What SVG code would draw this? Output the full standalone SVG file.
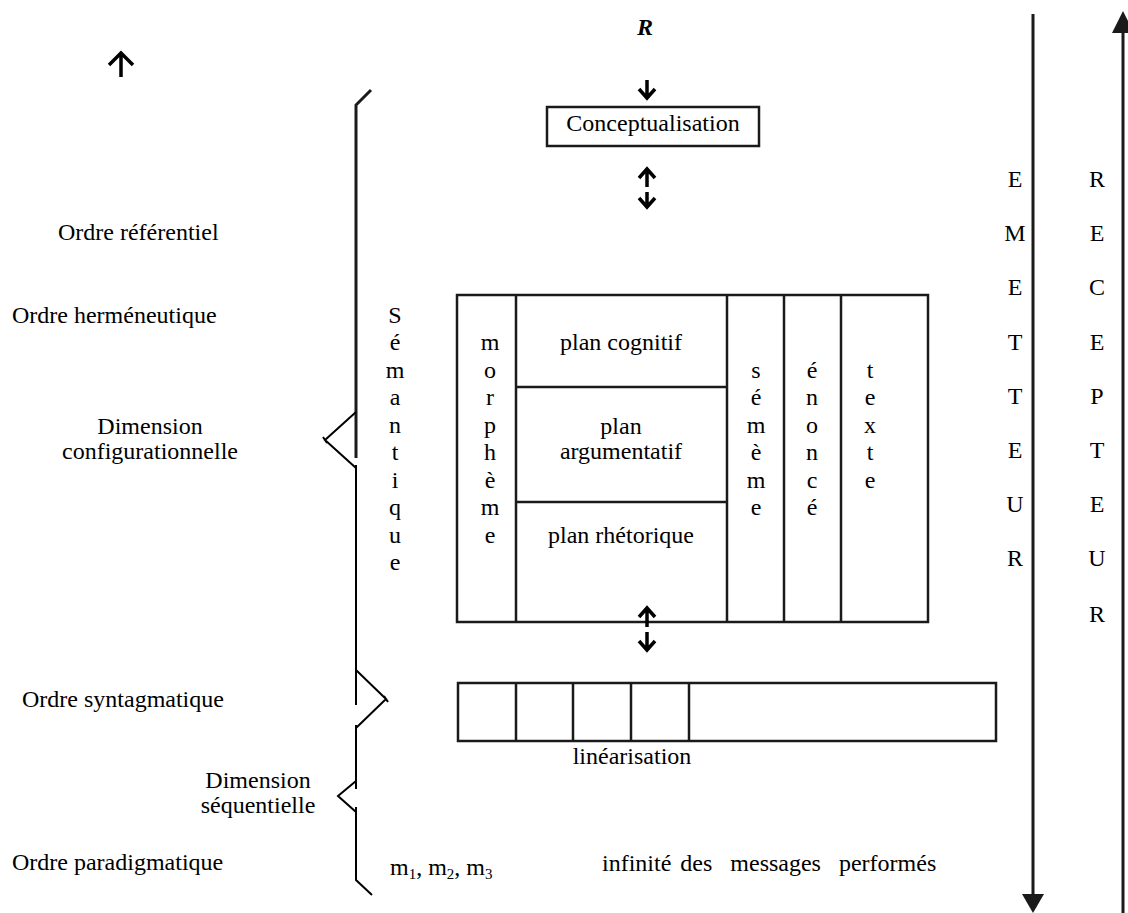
<svg xmlns="http://www.w3.org/2000/svg" width="1128" height="913" viewBox="0 0 1128 913">
<style>
text{font-family:"Liberation Serif","Times New Roman",serif;font-size:24px;fill:#000}
.c{text-anchor:middle}
.ln{stroke:#1a1a1a;stroke-width:2.5;fill:none}
.br{stroke:#000;stroke-width:2;fill:none}
.ar{stroke:#000;stroke-width:3.5;fill:none;stroke-linejoin:miter}
</style>
<rect width="1128" height="913" fill="#fff"/>
<g id="top-R"><text x="645" y="35" class="c" style="font-weight:bold;font-style:italic">R</text></g>
<g id="up-arrow-left"><path class="ar" d="M121,53 L121,77 M109,65 L121,53 L133,65"/></g>
<g id="bracket">
<path d="M371,90 L356,105 L356,458" stroke="#1a1a1a" stroke-width="3" fill="none"/>
<path class="br" d="M356,412 L325,440 L356,468 M323,437 L327,443"/>
<path class="br" d="M356,465 L356,705"/>
<path class="br" d="M356,670 L386,699 L356,728 M384,696 L388,702"/>
<path class="br" d="M356,725 L356,789"/>
<path class="br" d="M356,781 L338,796 L356,812"/>
<path class="br" d="M356,807 L356,880 L372,895"/>
</g>
<g id="left-labels">
<text x="58" y="240">Ordre référentiel</text>
<text x="12" y="323">Ordre herméneutique</text>
<text x="150" y="434" class="c">Dimension</text>
<text x="150" y="459" class="c">configurationnelle</text>
<text x="22" y="707">Ordre syntagmatique</text>
<text x="258" y="788" class="c">Dimension</text>
<text x="258" y="813" class="c">séquentielle</text>
<text x="12" y="870">Ordre paradigmatique</text>
<text x="390" y="875">m<tspan font-size="15" dy="4">1</tspan><tspan dy="-4">, m</tspan><tspan font-size="15" dy="4">2</tspan><tspan dy="-4">, m</tspan><tspan font-size="15" dy="4">3</tspan></text>
</g>
<g id="semantique" class="c">
<text x="395" y="323">S</text><text x="395" y="350">é</text><text x="395" y="378">m</text><text x="395" y="405">a</text><text x="395" y="433">n</text><text x="395" y="460">t</text><text x="395" y="488">i</text><text x="395" y="515">q</text><text x="395" y="543">u</text><text x="395" y="570">e</text>
</g>
<g id="conceptualisation">
<rect x="547" y="107" width="212" height="39" class="ln"/>
<text x="653" y="131" class="c">Conceptualisation</text>
</g>
<g id="main-box">
<rect x="457" y="295" width="471" height="327" class="ln"/>
<path class="ln" d="M516,295 L516,622 M727,295 L727,622 M784,295 L784,622 M841,295 L841,622 M516,387 L727,387 M516,502 L727,502"/>
<g id="morpheme" class="c">
<text x="490" y="350">m</text><text x="490" y="378">o</text><text x="490" y="405">r</text><text x="490" y="433">p</text><text x="490" y="460">h</text><text x="490" y="488">è</text><text x="490" y="515">m</text><text x="490" y="543">e</text>
</g>
<g id="plans" class="c">
<text x="621" y="350">plan cognitif</text>
<text x="621" y="434">plan</text>
<text x="621" y="459">argumentatif</text>
<text x="621" y="543">plan rhétorique</text>
</g>
<g id="sememe" class="c">
<text x="756" y="378">s</text><text x="756" y="405">é</text><text x="756" y="433">m</text><text x="756" y="460">è</text><text x="756" y="488">m</text><text x="756" y="515">e</text>
</g>
<g id="enonce" class="c">
<text x="812" y="378">é</text><text x="812" y="405">n</text><text x="812" y="433">o</text><text x="812" y="460">n</text><text x="812" y="488">c</text><text x="812" y="515">é</text>
</g>
<g id="texte" class="c">
<text x="870" y="378">t</text><text x="870" y="405">e</text><text x="870" y="433">x</text><text x="870" y="460">t</text><text x="870" y="488">e</text>
</g>
</g>
<g id="linearisation">
<rect x="458" y="683" width="538" height="58" class="ln"/>
<path class="ln" d="M516,683 L516,741 M573,683 L573,741 M631,683 L631,741 M689,683 L689,741"/>
<text x="632" y="764" class="c">linéarisation</text>
</g>
<g id="bottom-label"><text x="602" y="871" xml:space="preserve" word-spacing="3">infinité des  messages  performés</text></g>
<g id="emetteur" class="c">
<text x="1015" y="187">E</text><text x="1015" y="241">M</text><text x="1015" y="295">E</text><text x="1015" y="350">T</text><text x="1015" y="404">T</text><text x="1015" y="458">E</text><text x="1015" y="512">U</text><text x="1015" y="566">R</text>
</g>
<g id="recepteur" class="c">
<text x="1097" y="187">R</text><text x="1097" y="241">E</text><text x="1097" y="295">C</text><text x="1097" y="350">E</text><text x="1097" y="404">P</text><text x="1097" y="458">T</text><text x="1097" y="512">E</text><text x="1097" y="566">U</text><text x="1097" y="622">R</text>
</g>
<g id="connectors">
<path class="ar" d="M647,80 L647,98 M639,89 L647,98 L655,89"/>
<path class="ar" d="M647,169 L647,187 M639,178 L647,169 L655,178"/>
<path class="ar" d="M647,192 L647,207 M639,198 L647,207 L655,198"/>
<path class="ar" d="M647,608 L647,627 M639,617 L647,608 L655,617"/>
<path class="ar" d="M647,632 L647,650 M639,641 L647,650 L655,641"/>
<path d="M1033,14 L1033,897" stroke="#1a1a1a" stroke-width="3" fill="none"/>
<polygon points="1022,894 1044,894 1033,913" fill="#1a1a1a"/>
<path d="M1123,913 L1123,30" stroke="#1a1a1a" stroke-width="3" fill="none"/>
<polygon points="1112,33 1134,33 1123,11" fill="#1a1a1a"/>
</g>
</svg>
